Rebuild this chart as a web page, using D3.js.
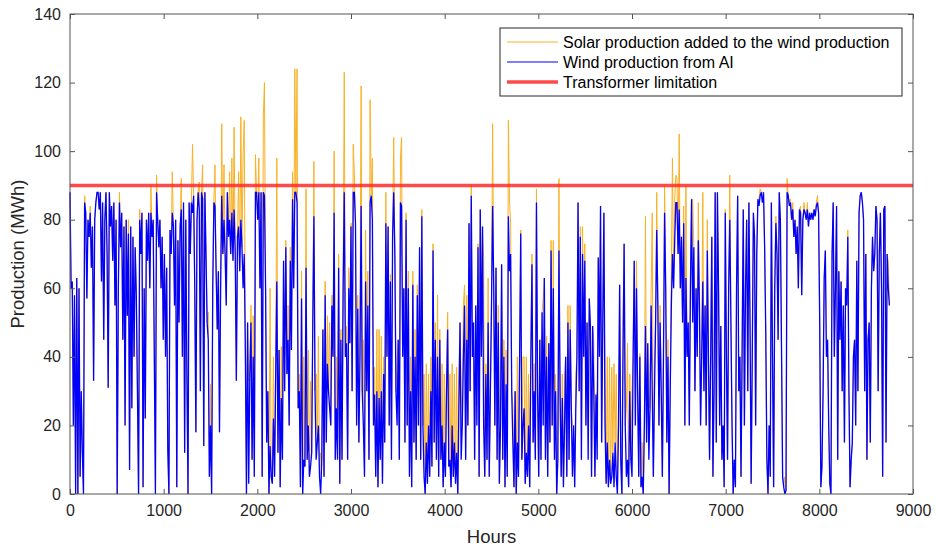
<!DOCTYPE html>
<html>
<head>
<meta charset="utf-8">
<script src="https://cdn.jsdelivr.net/npm/d3@7"></script>
<style>
  body { margin: 0; background: #fff; }
  svg { display: block; font-family: "Liberation Sans", Arial, Helvetica, sans-serif; }
  .axis text { fill: #262626; font-size: 16px; }
  .axis line { stroke: #555; }
  .axis path { display: none; }
</style>
</head>
<body>
<div class="chart"></div>
<script>
const width = 936;
const height = 547;

const step = 12;

const wind = [
  88,60,62,20,58,0,63,0,60,5, 30,12,0,85,82,57,80,75,82,66, 78,33,80,85,88,88,83,88,62,85, 45,80,88,70,31,88,78,84,68,85, 55,80,0,60,85,72,82,45,78,20, 80,52,76,7,78,25,75,40,72,58,
  30,0,80,70,82,2,60,22,80,68, 82,60,82,75,80,40,0,88,80,72, 80,60,75,45,70,40,66,13,0,77, 70,82,78,55,80,2,74,50,78,83, 40,85,12,80,35,0,85,70,85,82, 87,60,18,80,88,83,30,88,86,14,
  88,70,50,45,5,20,0,60,85,84, 65,48,65,18,60,87,70,80,70,55, 88,75,80,70,82,68,83,70,33,75, 78,65,80,72,60,70,42,0,50,3, 35,50,10,40,5,88,88,80,88,60, 88,5,88,87,60,15,30,0,14,5,
  3,22,5,35,62,12,42,2,28,10, 68,30,72,35,45,20,68,42,86,60, 88,88,85,25,30,2,57,0,10,8, 66,10,20,5,8,12,50,81,30,10, 15,20,5,0,10,48,5,58,15,38, 30,25,20,55,40,82,10,25,10,66,
  3,45,10,60,88,40,44,10,60,44, 78,30,88,88,79,20,54,15,40,84, 30,20,5,62,30,55,10,85,87,80, 20,29,5,30,2,28,10,30,3,35, 15,79,40,78,20,62,10,75,88,70, 30,20,45,10,85,84,40,60,15,80,
  20,60,5,30,2,61,15,40,10,58, 20,72,10,81,20,5,0,15,3,20, 5,30,8,71,15,45,10,40,5,45, 10,20,2,15,5,30,48,8,10,2, 20,5,15,3,12,0,25,50,10,20, 40,55,10,45,20,79,30,87,40,50,
  10,55,20,72,5,83,40,78,20,5, 35,10,50,5,30,55,84,60,20,66, 10,50,3,20,67,10,40,2,32,5, 81,65,70,30,15,2,30,0,15,5, 40,76,10,20,25,3,12,5,20,2, 40,67,15,30,10,85,30,5,45,10,
  53,20,63,10,40,5,44,15,71,20, 60,10,30,0,10,71,30,5,28,2, 20,40,5,50,10,48,25,5,20,2, 25,40,85,30,75,10,70,40,68,20, 50,10,57,49,5,49,30,5,29,10, 69,40,84,15,50,82,20,3,15,2,
  10,3,5,12,2,15,5,0,20,61, 10,0,40,73,20,5,10,2,30,10, 5,40,68,20,60,30,5,40,2,5, 0,20,49,15,44,10,25,55,30,5, 30,50,77,55,20,50,30,5,40,82, 60,15,40,0,30,55,70,60,74,85,
  85,70,83,60,75,50,79,20,63,40, 50,20,60,86,50,72,30,60,40,74, 55,20,40,62,30,55,20,71,40,10, 40,75,5,30,88,15,88,60,20,49, 10,20,2,82,40,10,60,80,50,20, 0,10,2,60,87,30,40,5,43,83,
  20,60,80,30,85,50,3,40,82,75, 20,70,86,84,87,88,85,88,72,47, 10,0,20,5,85,40,2,60,79,70, 45,88,80,43,5,2,0,1,88,87, 84,85,80,83,75,80,70,78,60,83, 82,58,80,83,82,80,83,78,82,80,
  82,80,83,81,84,85,82,50,2,8, 30,63,71,40,45,20,3,0,70,85, 40,60,84,10,65,45,62,30,55,15, 60,55,75,30,2,10,15,40,45,20, 68,30,82,87,88,85,80,30,70,10, 45,50,15,60,75,65,70,84,80,30,
  70,82,60,5,83,84,15,70,60,55
];

// solar production added on top of the wind production, same sampling
const solar = [
  0,0,0,0,0,0,0,0,0,0, 0,0,0,2,0,0,0,0,2,0, 0,0,0,0,0,0,0,0,0,0, 0,0,0,0,0,0,0,0,0,0, 0,0,0,0,3,0,0,0,0,0, 0,0,4,0,0,0,0,0,0,0,
  0,0,3,0,0,0,0,0,0,0, 0,0,8,0,0,0,0,5,0,0, 0,0,0,0,0,0,0,0,0,0, 0,12,0,0,0,0,0,0,0,9, 0,0,0,0,0,0,0,0,0,20, 0,0,0,0,0,8,0,0,10,0,
  0,0,0,8,0,12,0,0,0,12, 0,0,0,0,0,21,0,16,0,0, 0,0,14,0,16,0,24,0,0,0, 16,0,30,0,39,39,0,0,0,30, 0,5,0,12,0,11,0,0,10,0, 0,0,22,33,0,0,0,0,46,0,
  0,18,0,0,36,0,0,0,15,0, 0,10,2,0,10,0,4,0,8,0, 36,0,39,0,5,0,8,0,30,0, 23,0,22,0,25,0,0,16,0,25, 0,26,0,12,0,0,0,4,0,14, 0,25,0,3,0,18,0,15,0,4,
  0,3,0,0,35,0,5,0,6,0, 1,0,14,5,0,0,4,0,12,35, 0,25,0,15,0,10,0,30,0,18, 0,8,0,18,0,20,0,16,0,5, 0,9,0,0,0,2,0,0,16,0, 0,20,0,0,13,20,0,0,0,2,
  0,5,0,10,0,4,0,8,0,3, 0,0,0,2,0,30,0,23,0,15, 0,10,0,2,0,5,0,18,0,3, 0,18,0,20,0,8,5,0,25,0, 18,0,20,0,25,0,10,0,20,0, 15,6,0,13,0,0,0,3,0,0,
  0,0,10,1,0,0,0,0,49,0, 3,0,13,0,0,0,24,0,0,0, 0,5,0,0,0,0,5,0,10,0, 28,21,9,0,10,0,0,0,25,0, 0,1,0,20,15,0,28,0,15,0, 0,3,0,8,0,4,0,0,0,0,
  0,37,0,0,6,0,0,0,3,0, 14,0,5,0,0,21,0,0,7,0, 15,0,0,5,0,7,0,15,0,0, 10,0,0,0,3,0,8,0,5,0, 0,20,0,0,0,0,15,0,0,20, 0,0,0,0,0,0,10,0,25,0,
  30,0,32,0,36,0,30,0,0,0, 0,0,10,0,0,20,34,0,5,0, 25,0,0,0,8,0,0,1,0,10, 0,0,32,0,0,20,0,3,52,0, 8,0,11,0,0,5,0,0,0,8, 0,0,5,0,0,12,28,0,12,8,
  7,0,22,0,0,0,5,0,27,0, 0,0,5,0,36,0,0,0,0,11, 0,0,0,26,0,0,0,9,0,0, 0,0,0,0,0,0,0,0,0,0, 0,0,0,1,0,0,0,13,0,0, 0,0,0,0,0,0,0,0,1,0,
  0,0,0,0,0,0,0,0,0,0, 0,0,0,2,2,0,3,0,0,0, 0,0,0,0,0,0,0,0,2,0, 0,0,0,0,0,0,5,0,4,0, 1,1,0,2,0,0,0,0,0,0, 2,0,0,2,0,0,2,0,0,0,
  0,0,0,0,1,2,0,0,0,0, 0,0,0,0,0,0,0,0,0,0, 0,0,0,0,0,0,0,0,0,0, 0,0,2,0,0,0,0,0,0,0, 0,0,0,0,0,0,0,0,0,0, 0,0,0,0,0,0,0,0,0,0,
  0,0,0,0,0,0,0,0,8,0
];

const limit = 90;
const xTicks = [0, 1000, 2000, 3000, 4000, 5000, 6000, 7000, 8000, 9000];
const yTicks = [0, 20, 40, 60, 80, 100, 120, 140];

const legendLabels = [
  'Solar production added to the wind production',
  'Wind production from AI',
  'Transformer limitation'
];

const solarColor = '#f9b126';
const windColor = '#0000ff';
const limitColor = '#ff2a2a';

const margin = { top: 14, right: 23, bottom: 53, left: 70 };

const x = d3.scaleLinear().domain([0, 9000]).range([margin.left, width - margin.right]);
const y = d3.scaleLinear().domain([0, 140]).range([height - margin.bottom, margin.top]);

const svg = d3
  .select('.chart')
  .append('svg')
  .attr('width', width)
  .attr('height', height);

const total = wind.map((w, i) => w + solar[i]);

const line = d3
  .line()
  .x((d, i) => x(i * step))
  .y(d => y(d));

svg.append('path')
  .datum(total)
  .attr('fill', 'none')
  .attr('stroke', solarColor)
  .attr('stroke-width', 1)
  .attr('d', line);

svg.append('path')
  .datum(wind)
  .attr('fill', 'none')
  .attr('stroke', windColor)
  .attr('stroke-width', 1.3)
  .attr('d', line);

svg.append('line')
  .attr('x1', x(0))
  .attr('x2', x(9000))
  .attr('y1', y(limit))
  .attr('y2', y(limit))
  .attr('stroke', limitColor)
  .attr('stroke-opacity', 0.85)
  .attr('stroke-width', 3.5);

// axes, ticks inward on all four sides
const x0 = x.range()[0], x1 = x.range()[1];
const y0 = y.range()[0], y1 = y.range()[1];

svg.append('g')
  .attr('class', 'axis')
  .attr('transform', `translate(0,${y0})`)
  .call(d3.axisBottom(x).tickValues(xTicks).tickFormat(d3.format('d'))
    .tickSizeInner(-5).tickSizeOuter(0).tickPadding(11));

svg.append('g')
  .attr('class', 'axis')
  .attr('transform', `translate(${x0},0)`)
  .call(d3.axisLeft(y).tickValues(yTicks).tickSizeInner(-5).tickSizeOuter(0).tickPadding(9));

svg.append('g')
  .attr('class', 'axis')
  .attr('transform', `translate(0,${y1})`)
  .call(d3.axisTop(x).tickValues(xTicks).tickSizeInner(-5).tickSizeOuter(0).tickFormat(''));

svg.append('g')
  .attr('class', 'axis')
  .attr('transform', `translate(${x1},0)`)
  .call(d3.axisRight(y).tickValues(yTicks).tickSizeInner(-5).tickSizeOuter(0).tickFormat(''));

svg.append('rect')
  .attr('x', x0)
  .attr('y', y1)
  .attr('width', x1 - x0)
  .attr('height', y0 - y1)
  .attr('fill', 'none')
  .attr('stroke', '#555')
  .attr('stroke-width', 1);

svg.append('text')
  .attr('x', (x0 + x1) / 2)
  .attr('y', 543)
  .attr('text-anchor', 'middle')
  .attr('font-size', 18.5)
  .attr('fill', '#262626')
  .text('Hours');

svg.append('text')
  .attr('transform', `translate(24,${(y0 + y1) / 2}) rotate(-90)`)
  .attr('text-anchor', 'middle')
  .attr('font-size', 18.5)
  .attr('fill', '#262626')
  .text('Production (MWh)');

// legend
const legend = svg.append('g').attr('transform', 'translate(500,28)');

legend.append('rect')
  .attr('width', 402)
  .attr('height', 68)
  .attr('fill', '#fff')
  .attr('stroke', '#262626')
  .attr('stroke-width', 1);

const legendStyles = [
  { color: solarColor, w: 1 },
  { color: windColor, w: 1 },
  { color: limitColor, w: 3.5 }
];

legendLabels.forEach((label, i) => {
  const ly = 14 + i * 20;
  legend.append('line')
    .attr('x1', 7)
    .attr('x2', 58)
    .attr('y1', ly)
    .attr('y2', ly)
    .attr('stroke', legendStyles[i].color)
    .attr('stroke-opacity', i === 2 ? 0.85 : 1)
    .attr('stroke-width', legendStyles[i].w);
  legend.append('text')
    .attr('x', 63)
    .attr('y', ly)
    .attr('dy', '0.35em')
    .attr('font-size', 16)
    .attr('fill', '#000')
    .text(label);
});
</script>
</body>
</html>
